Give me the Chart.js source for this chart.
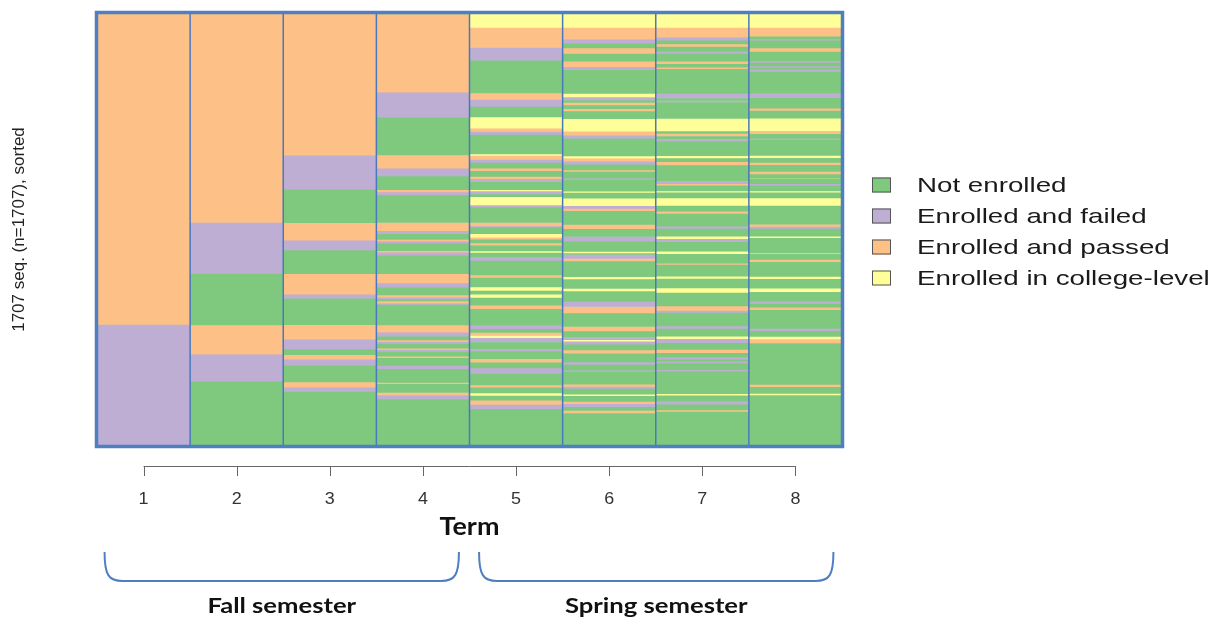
<!DOCTYPE html>
<html>
<head>
<meta charset="utf-8">
<script src="https://cdn.jsdelivr.net/npm/chart.js@4"></script>
<style>
  body { margin: 0; background: #ffffff; }
  canvas { display: block; }
</style>
</head>
<body>
<canvas id="chart" width="1223" height="620"></canvas>
<script>
// states, in legend order
var stateKeys = ['N', 'F', 'P', 'C'];
var stateNames = ['Not enrolled', 'Enrolled and failed', 'Enrolled and passed', 'Enrolled in college-level'];
var stateColors = ['#7fc97f', '#beaed4', '#fdc086', '#ffff99'];
var termLabels = ['1', '2', '3', '4', '5', '6', '7', '8'];
var nSeq = 1707;

var term1 = ['P1230', 'F477'];
var term2 = ['P828', 'F201', 'N201', 'P118', 'F106', 'N253'];
var term3 = ['C4', 'P559', 'F134', 'N130', 'P71', 'F39', 'N91', 'P83', 'F16', 'N102', 'P59', 'F39', 'N20', 'P20', 'F24', 'N63', 'P24', 'F16', 'N213'];
var term4 = ['N4', 'P311', 'F98', 'N146', 'P55', 'F31', 'N51', 'P12', 'F12', 'N106', 'P35', 'F12', 'N20', 'P8', 'F8', 'N28', 'P8', 'F12', 'N71', 'P39', 'F16', 'N28', 'P12', 'F8', 'N4', 'P12', 'F4', 'N79', 'P31', 'F16', 'N12', 'P8', 'F8', 'N16', 'P8', 'F8', 'N16', 'P8', 'N28', 'F16', 'N51', 'P8', 'N32', 'P12', 'F16', 'N183'];
var term5 = ['C59', 'P79', 'F51', 'N126', 'P28', 'F28', 'N39', 'C47', 'P12', 'F12', 'N75', 'C8', 'P16', 'F12', 'N20', 'P12', 'N20', 'P12', 'F12', 'N28', 'C8', 'F12', 'N8', 'C35', 'F8', 'N59', 'P16', 'F4', 'N24', 'C16', 'P8', 'N12', 'P12', 'N20', 'C8', 'N16', 'F16', 'N55', 'P12', 'N35', 'C16', 'N12', 'C16', 'N28', 'P16', 'N63', 'F16', 'N12', 'P12', 'C12', 'F16', 'N24', 'F12', 'N28', 'P16', 'N20', 'F24', 'N43', 'P12', 'N20', 'C12', 'N16', 'P20', 'F16', 'N145'];
var term6 = ['C59', 'P47', 'F16', 'N16', 'P24', 'N28', 'P24', 'F12', 'N91', 'C16', 'F12', 'N8', 'P12', 'N12', 'P12', 'N28', 'C51', 'P16', 'F12', 'N67', 'C12', 'P12', 'F12', 'N20', 'P8', 'N24', 'F8', 'N43', 'C8', 'N20', 'C32', 'F8', 'P12', 'N51', 'P20', 'N28', 'F20', 'N39', 'C8', 'N4', 'F16', 'P12', 'N59', 'C12', 'N35', 'C12', 'N39', 'F20', 'P28', 'N51', 'P20', 'N20', 'F12', 'C8', 'F12', 'N20', 'P16', 'N32', 'F12', 'N20', 'F8', 'N47', 'P12', 'F8', 'N20', 'C8', 'N20', 'P12', 'F12', 'N12', 'P12', 'N128'];
var term7 = ['C59', 'P39', 'F12', 'N12', 'P12', 'N16', 'F12', 'N28', 'P12', 'N12', 'P8', 'N95', 'F20', 'N8', 'F8', 'N63', 'C51', 'N8', 'P12', 'N8', 'F12', 'N55', 'C12', 'N12', 'P16', 'N59', 'F12', 'P8', 'N20', 'C8', 'N20', 'C32', 'N20', 'P12', 'N47', 'F12', 'N28', 'C12', 'F12', 'N35', 'C12', 'N35', 'P8', 'N43', 'C12', 'N35', 'C20', 'N51', 'P20', 'F8', 'N51', 'F12', 'N28', 'C12', 'F16', 'N24', 'P16', 'N16', 'F8', 'N8', 'F8', 'N24', 'F8', 'N87', 'C8', 'N20', 'F16', 'N20', 'P8', 'N134'];
var term8 = ['C59', 'P35', 'N8', 'F8', 'N28', 'P16', 'N35', 'F8', 'N12', 'F8', 'N4', 'F12', 'N83', 'F20', 'N39', 'P12', 'N28', 'C51', 'P12', 'N16', 'F8', 'N59', 'C12', 'N16', 'P12', 'N24', 'P12', 'N12', 'C4', 'N20', 'F8', 'N20', 'C8', 'N20', 'C32', 'N71', 'P12', 'F8', 'N28', 'C8', 'N59', 'C4', 'N20', 'P12', 'N55', 'C12', 'N35', 'C16', 'N35', 'F12', 'N12', 'P12', 'N71', 'F12', 'N20', 'C12', 'P16', 'N161', 'P12', 'N24', 'C8', 'N199'];

var terms = [term1, term2, term3, term4, term5, term6, term7, term8];

// floating bars [from, to] for one state, all terms
function segmentsFor(key) {
    var out = [];
    terms.forEach(function(runs, i) {
        var pos = 0;
        runs.forEach(function(r) {
            var n = parseInt(r.slice(1), 10);
            if (r.charAt(0) === key) {
                out.push({x: termLabels[i], y: [pos, pos + n]});
            }
            pos += n;
        });
    });
    return out;
}

var datasets = stateKeys.map(function(key, i) {
    return {
        label: stateNames[i],
        data: segmentsFor(key),
        backgroundColor: stateColors[i],
        borderWidth: 0,
        grouped: false,
        barPercentage: 1,
        categoryPercentage: 1
    };
});

function stretchText(ctx, text, x, y, font, sx, align) {
    ctx.save();
    ctx.font = font;
    ctx.translate(x, y);
    ctx.scale(sx, 1);
    ctx.textAlign = align;
    ctx.fillText(text, 0, 0);
    ctx.restore();
}

function brace(ctx, x0, x1, top, bottom) {
    ctx.beginPath();
    ctx.moveTo(x0, top);
    ctx.bezierCurveTo(x0, bottom - 6, x0 + 4, bottom, x0 + 18, bottom);
    ctx.lineTo(x1 - 18, bottom);
    ctx.bezierCurveTo(x1 - 4, bottom, x1, bottom - 6, x1, top);
    ctx.stroke();
}

var decor = {
    id: 'decor',
    afterDatasetsDraw: function(chart) {
        var ctx = chart.ctx, a = chart.chartArea, xs = chart.scales.x;
        ctx.save();
        // column separators
        ctx.strokeStyle = '#4a78c0';
        ctx.lineWidth = 1.5;
        for (var i = 0; i < termLabels.length - 1; i++) {
            var xm = (xs.getPixelForValue(i) + xs.getPixelForValue(i + 1)) / 2;
            ctx.beginPath();
            ctx.moveTo(xm, a.top);
            ctx.lineTo(xm, a.bottom);
            ctx.stroke();
        }
        // frame
        ctx.strokeStyle = '#4f7fc0';
        ctx.lineWidth = 3.5;
        ctx.strokeRect(a.left - 0.5, a.top - 0.5, a.right - a.left + 1, a.bottom - a.top + 1);
        ctx.restore();
    },
    afterDraw: function(chart) {
        var ctx = chart.ctx, a = chart.chartArea, xs = chart.scales.x;
        var first = xs.getPixelForValue(0), last = xs.getPixelForValue(termLabels.length - 1);
        ctx.save();
        // x axis R style
        ctx.strokeStyle = '#666666';
        ctx.lineWidth = 1;
        ctx.beginPath();
        ctx.moveTo(first, 466.5);
        ctx.lineTo(last, 466.5);
        termLabels.forEach(function(l, i) {
            var px = Math.round(xs.getPixelForValue(i)) + 0.5;
            ctx.moveTo(px, 466);
            ctx.lineTo(px, 476);
        });
        ctx.stroke();
        ctx.fillStyle = '#333333';
        ctx.textBaseline = 'middle';
        termLabels.forEach(function(l, i) {
            stretchText(ctx, l, xs.getPixelForValue(i), 500, '16px "Liberation Sans", Arial, sans-serif', 1.12, 'center');
        });
        // axis titles
        ctx.fillStyle = '#111111';
        ctx.textBaseline = 'alphabetic';
        stretchText(ctx, 'Term', (a.left + a.right) / 2, 535, 'bold 24px Lato, sans-serif', 1.12, 'center');
        ctx.save();
        ctx.translate(24, (a.top + a.bottom) / 2);
        ctx.rotate(-Math.PI / 2);
        ctx.font = '17px "Liberation Sans", Arial, sans-serif';
        ctx.textAlign = 'center';
        ctx.fillStyle = '#222222';
        ctx.fillText('1707 seq. (n=1707), sorted', 0, 0);
        ctx.restore();
        // semester braces
        ctx.strokeStyle = '#4f7fc0';
        ctx.lineWidth = 2;
        brace(ctx, first - 39, xs.getPixelForValue(3) + 36, 552, 581);
        brace(ctx, xs.getPixelForValue(4) - 37, last + 38, 552, 581);
        ctx.fillStyle = '#111111';
        stretchText(ctx, 'Fall semester', (first - 39 + xs.getPixelForValue(3) + 36) / 2, 613, 'bold 21px Lato, sans-serif', 1.22, 'center');
        stretchText(ctx, 'Spring semester', (xs.getPixelForValue(4) - 37 + last + 38) / 2, 613, 'bold 21px Lato, sans-serif', 1.22, 'center');
        // legend
        ctx.textBaseline = 'middle';
        stateNames.forEach(function(name, i) {
            var ry = 185 + i * 31;
            ctx.fillStyle = stateColors[i];
            ctx.fillRect(872, ry - 7.5, 19, 15);
            ctx.strokeStyle = '#555555';
            ctx.lineWidth = 1;
            ctx.strokeRect(872.5, ry - 7, 18, 14);
            ctx.fillStyle = '#1a1a1a';
            stretchText(ctx, name, 917, ry + 1, '21px "Liberation Sans", Arial, sans-serif', 1.32, 'left');
        });
        ctx.restore();
    }
};

var ctx = document.getElementById('chart').getContext('2d');
var chart = new Chart(ctx, {
    type: 'bar',
    data: {
        labels: termLabels,
        datasets: datasets
    },
    options: {
        responsive: false,
        animation: false,
        layout: {
            padding: {left: 97, top: 13, right: 381, bottom: 174}
        },
        plugins: {
            legend: {display: false},
            tooltip: {enabled: false}
        },
        scales: {
            x: {type: 'category', display: false, offset: true},
            y: {min: 0, max: nSeq, reverse: true, display: false}
        }
    },
    plugins: [decor]
});
</script>
</body>
</html>
